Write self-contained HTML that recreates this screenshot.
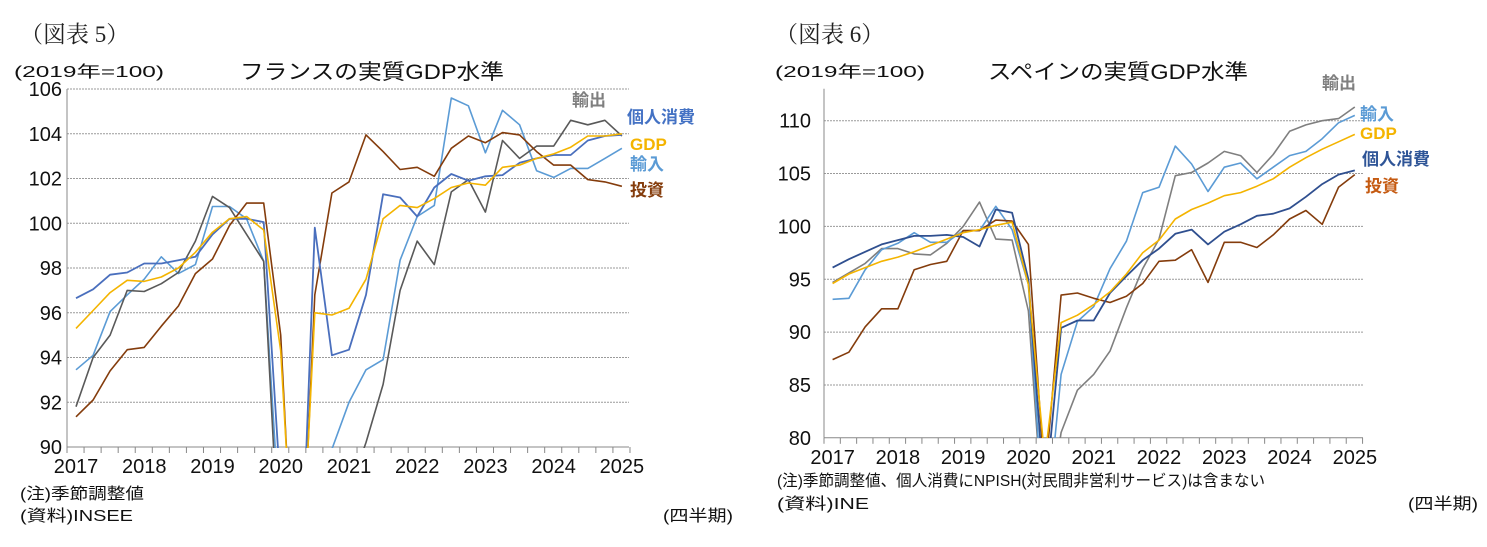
<!DOCTYPE html>
<html><head><meta charset="utf-8">
<style>
html,body{margin:0;padding:0;background:#fff;width:1487px;height:547px;overflow:hidden;}
svg{display:block;font-family:"Liberation Sans","Noto Sans CJK JP",sans-serif;}
</style></head>
<body>
<svg id="s" width="1487" height="547" viewBox="0 0 1487 547" xmlns="http://www.w3.org/2000/svg">
<defs>
<clipPath id="c1"><rect x="67" y="80" width="570" height="368"/></clipPath>
<clipPath id="c2"><rect x="824" y="90" width="560" height="348"/></clipPath>
</defs>
<g id="g"></g>
<text x="20" y="42" font-family="Liberation Serif,Noto Serif CJK SC,serif" font-size="23" fill="#222">（図表 5）</text>
<text x="14" y="77" font-size="16" fill="#111" textLength="150" lengthAdjust="spacingAndGlyphs">(2019年=100)</text>
<text x="240" y="79" font-size="21" fill="#111" textLength="264" lengthAdjust="spacingAndGlyphs">フランスの実質GDP水準</text>
<text x="20" y="499" font-size="16" fill="#111" textLength="124" lengthAdjust="spacingAndGlyphs">(注)季節調整値</text>
<text x="20" y="521" font-size="16" fill="#111" textLength="113" lengthAdjust="spacingAndGlyphs">(資料)INSEE</text>
<text x="663" y="521" font-size="16" fill="#111" textLength="70" lengthAdjust="spacingAndGlyphs">(四半期)</text>
<g font-size="17" font-weight="bold">
<text x="572" y="106" fill="#7f7f7f">輸出</text>
<text x="627" y="123" fill="#4472c4">個人消費</text>
<text x="630" y="150" fill="#f4b400">GDP</text>
<text x="630" y="170" fill="#5b9bd5">輸入</text>
<text x="630" y="196" fill="#843c0c">投資</text>
</g>
<text x="775" y="42" font-family="Liberation Serif,Noto Serif CJK SC,serif" font-size="23" fill="#222">（図表 6）</text>
<text x="775" y="77" font-size="16" fill="#111" textLength="150" lengthAdjust="spacingAndGlyphs">(2019年=100)</text>
<text x="988" y="79" font-size="21" fill="#111" textLength="260" lengthAdjust="spacingAndGlyphs">スペインの実質GDP水準</text>
<text x="777" y="486" font-size="16" fill="#111" textLength="488" lengthAdjust="spacingAndGlyphs">(注)季節調整値、個人消費にNPISH(対民間非営利サービス)は含まない</text>
<text x="777" y="509" font-size="16" fill="#111" textLength="92" lengthAdjust="spacingAndGlyphs">(資料)INE</text>
<text x="1408" y="509" font-size="16" fill="#111" textLength="70" lengthAdjust="spacingAndGlyphs">(四半期)</text>
<g font-size="17" font-weight="bold">
<text x="1322" y="89" fill="#7f7f7f">輸出</text>
<text x="1360" y="120" fill="#5b9bd5">輸入</text>
<text x="1360" y="139" fill="#f4b400">GDP</text>
<text x="1362" y="165" fill="#2f5597">個人消費</text>
<text x="1365" y="192" fill="#c55a11">投資</text>
</g>
</svg>
<script>
var g=document.getElementById('g'),NS='http://www.w3.org/2000/svg';
function el(t,a,p){var e=document.createElementNS(NS,t);for(var k in a)e.setAttribute(k,a[k]);(p||g).appendChild(e);return e;}
function chart(o){
 var yv=function(v){return o.y0+(o.vmax-v)*o.ppu;};
 for(var v=o.vmin;v<=o.vmax;v+=o.step){
  var y=yv(v);
  if(v>o.vmin) el('line',{x1:o.ax,x2:o.ax2,y1:y,y2:y,stroke:'#9a9a9a','stroke-width':1,'stroke-dasharray':'2,1'});
  var t=el('text',{x:o.lx,y:y+7,'font-size':20,'text-anchor':'end',fill:'#111'});t.textContent=v;
 }
 var yb=yv(o.vmin);
 el('line',{x1:o.ax,x2:o.ax,y1:yv(o.vmax)-(o.top||0),y2:yb,stroke:'#888','stroke-width':1});
 el('line',{x1:o.ax,x2:o.ax2,y1:yb,y2:yb,stroke:'#888','stroke-width':1});
 for(var i=0;i<=35;i++){var x=o.ax+i*o.dx; if(x>o.ax2+1)break; el('line',{x1:x,x2:x,y1:yb,y2:yb+6,stroke:'#888'});}
 for(var yr=0;yr<=8;yr++){var t=el('text',{x:o.x0+yr*4*o.dx,y:yb+26,'font-size':20,'text-anchor':'middle',fill:'#111'});t.textContent=2017+yr;}
 var gg=el('g',{'clip-path':'url(#'+o.clip+')'});
 o.series.forEach(function(s){
  var pts=s.d.map(function(v,i){return (o.x0+i*o.dx).toFixed(1)+','+yv(v).toFixed(1);}).join(' ');
  el('polyline',{points:pts,fill:'none',stroke:s.c,'stroke-width':s.w||1.6,'stroke-linejoin':'round'},gg);
 });
}
chart({ax:67,ax2:629,x0:76,dx:17.06,y0:89,ppu:22.375,vmin:90,vmax:106,step:2,lx:62,clip:'c1',series:[
 {c:'#5b9bd5',d:[93.45,94.1,96.05,96.8,97.5,98.5,97.75,98.15,100.75,100.75,100.2,98.3,86,80,80,89.9,92.0,93.45,93.9,98.35,100.3,100.8,105.6,105.25,103.15,105.05,104.4,102.35,102.05,102.45,102.45,102.9,103.35]},
 {c:'#595959',d:[91.8,94.0,95.0,97.0,96.95,97.3,97.8,99.2,101.2,100.7,99.5,98.3,84,78,80,84,88,90.2,92.8,97.0,99.2,98.15,101.4,101.95,100.5,103.7,102.9,103.45,103.45,104.6,104.4,104.6,103.9]},
 {c:'#843c0c',d:[91.35,92.1,93.4,94.35,94.45,95.4,96.3,97.75,98.4,99.9,100.9,100.9,95,80,96.8,101.35,101.85,103.95,103.2,102.4,102.5,102.1,103.35,103.9,103.6,104.05,103.95,103.2,102.6,102.6,101.95,101.85,101.65]},
 {c:'#4a6fbd',d:[96.65,97.05,97.7,97.8,98.2,98.2,98.35,98.5,99.5,100.2,100.2,100.05,88,80,99.8,94.1,94.35,96.8,101.3,101.15,100.3,101.6,102.2,101.9,102.1,102.15,102.7,102.9,103.05,103.05,103.7,103.9,103.95],w:1.8},
 {c:'#f4b400',d:[95.3,96.1,96.9,97.45,97.4,97.6,98.0,98.7,99.6,100.2,100.3,99.7,94.3,81,96.0,95.9,96.2,97.5,100.2,100.8,100.7,101.1,101.6,101.8,101.7,102.5,102.6,102.9,103.1,103.4,103.9,103.9,104.0]}
]});
chart({ax:824,ax2:1363,x0:832.6,dx:16.32,y0:120.7,ppu:10.57,vmin:80,vmax:110,step:5,lx:811,top:32,clip:'c2',series:[
 {c:'#7f7f7f',d:[94.7,95.6,96.5,97.9,97.9,97.4,97.3,98.4,100.0,102.3,98.8,98.7,92,70,80.5,84.5,86.0,88.2,92.3,96.0,98.8,104.8,105.1,106.0,107.1,106.7,105.1,106.8,109.0,109.6,110.0,110.2,111.3]},
 {c:'#5b9bd5',d:[93.1,93.2,95.9,97.8,98.4,99.4,98.5,98.5,99.6,99.6,101.9,99.7,94.5,70,86.0,91.0,92.4,96.0,98.6,103.2,103.7,107.6,105.9,103.3,105.6,106.0,104.5,105.6,106.7,107.1,108.3,109.8,110.5]},
 {c:'#843c0c',d:[87.4,88.1,90.5,92.2,92.2,95.9,96.4,96.7,99.6,99.6,100.6,100.5,98.3,76,93.5,93.7,93.2,92.8,93.4,94.6,96.7,96.8,97.8,94.7,98.5,98.5,98.0,99.2,100.7,101.5,100.2,103.7,104.9]},
 {c:'#2f4f8f',d:[96.1,96.9,97.6,98.3,98.7,99.1,99.1,99.2,99.0,98.1,101.6,101.3,95,74,90.4,91.1,91.1,93.7,95.3,96.8,97.9,99.3,99.7,98.3,99.5,100.2,101.0,101.2,101.7,102.8,104.0,104.9,105.3],w:1.8},
 {c:'#f4b400',d:[94.6,95.5,96.1,96.7,97.1,97.6,98.2,98.8,99.4,99.7,100.1,100.4,94.5,78,90.9,91.6,92.6,93.8,95.5,97.5,98.7,100.7,101.6,102.2,102.9,103.2,103.8,104.5,105.6,106.5,107.3,108.0,108.7]}
]});
</script>
</body></html>
